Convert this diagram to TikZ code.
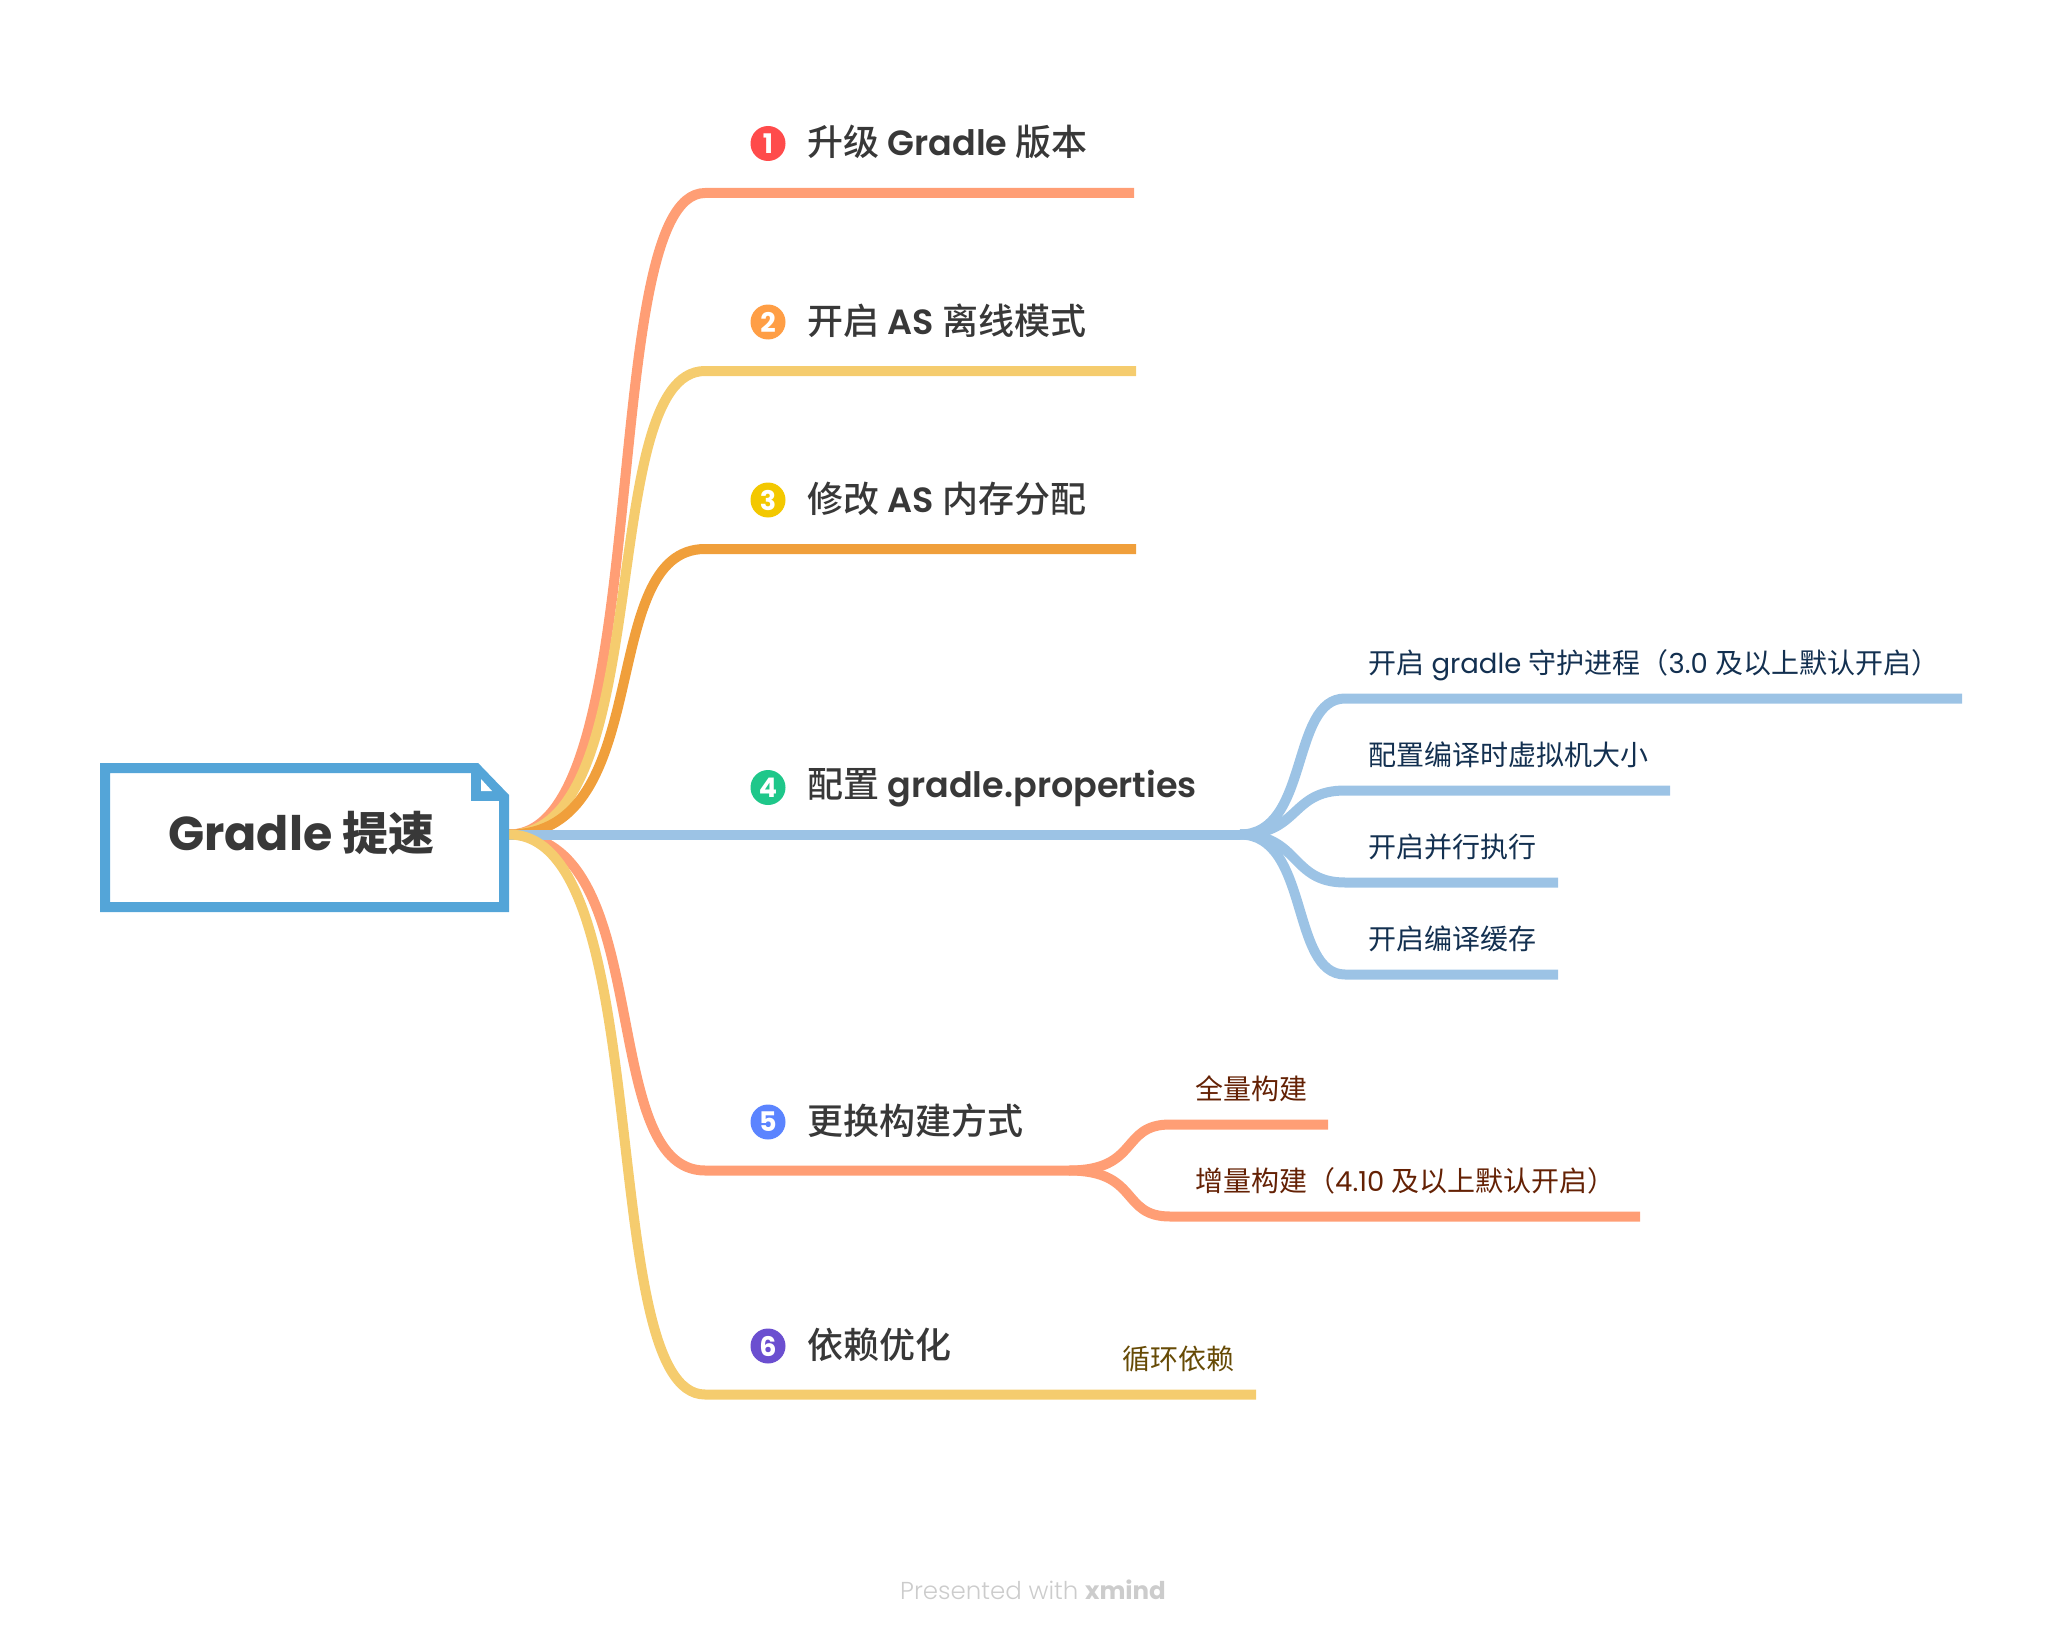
\documentclass[tikz,border=0pt]{standalone}
\usepackage{fontspec}
\setmainfont{Poppins}
\newfontfamily\cjk{Noto Sans CJK SC}
\newfontfamily\cjkm{Noto Sans CJK SC Medium}
\newfontfamily\pops{Poppins SemiBold}
\newfontfamily\popl{Poppins Light}
\definecolor{salmon}{HTML}{FF9E75}
\definecolor{sand}{HTML}{F5CC6E}
\definecolor{amber}{HTML}{F09F3B}
\definecolor{sky}{HTML}{9CC3E5}
\definecolor{rootblue}{HTML}{54A5D8}
\definecolor{ink}{HTML}{383838}
\definecolor{navy}{HTML}{133050}
\definecolor{rust}{HTML}{642104}
\definecolor{olive}{HTML}{664A05}
\definecolor{m1c}{HTML}{FF4B4B}
\definecolor{m2c}{HTML}{FF9E45}
\definecolor{m3c}{HTML}{F3C800}
\definecolor{m4c}{HTML}{1FC78A}
\definecolor{m5c}{HTML}{5B84FF}
\definecolor{m6c}{HTML}{6B4FD0}
\newcommand{\Z}[1]{{\cjk\fontsize{28}{30}\selectfont #1}}
\newcommand{\ZT}[1]{{\cjkm\fontsize{36}{38}\selectfont #1}}
\tikzset{
  x=1pt,y=-1pt,
  branch/.style={line width=10pt,line cap=butt,line join=round},
  tt/.style={anchor=base west,inner sep=0pt,text=ink,font=\pops\fontsize{35}{36}\selectfont},
  st/.style={anchor=base west,inner sep=0pt,font=\fontsize{27.5}{30}\selectfont},
  mark disc/.style={circle,inner sep=0pt,minimum size=35pt,text=white,font=\fontsize{27}{27}\selectfont\bfseries},
}
\begin{document}
\begin{tikzpicture}
\useasboundingbox (0,0) rectangle (2062,1640);
\coordinate (o) at (509,834.5);
\coordinate (e1) at (1134,193);
\coordinate (e2) at (1136,371);
\coordinate (e3) at (1136,549);
\coordinate (e4) at (1240,834.5);
\coordinate (e5) at (1069,1170.5);
\coordinate (e6) at (1256,1394.5);
% main branches
\draw[branch,salmon] (o) .. controls (658,834.5) and (595,193) .. (705,193) -- (e1);
\draw[branch,sand] (o) .. controls (658,834.5) and (595,371) .. (705,371) -- (e2);
\draw[branch,amber] (o) .. controls (658,834.5) and (595,549) .. (705,549) -- (e3);
\draw[branch,salmon] (o) .. controls (658,834.5) and (595,1170.5) .. (705,1170.5) -- (e5);
\draw[branch,sky] (o) -- (e4);
\draw[branch,sand] (o) .. controls (658,834.5) and (595,1394.5) .. (705,1394.5) -- (e6);
% sub branches 4
\coordinate (s41) at (1962,698.5);
\coordinate (s42) at (1670,790.5);
\coordinate (s43) at (1558,882.5);
\coordinate (s44) at (1558,974.5);
\draw[branch,sky] (e4) .. controls (1310,834.5) and (1290,698.5) .. (1345,698.5) -- (s41);
\draw[branch,sky] (e4) .. controls (1300,834.5) and (1290,790.5) .. (1345,790.5) -- (s42);
\draw[branch,sky] (e4) .. controls (1300,834.5) and (1290,882.5) .. (1345,882.5) -- (s43);
\draw[branch,sky] (e4) .. controls (1310,834.5) and (1290,974.5) .. (1345,974.5) -- (s44);
% sub branches 5
\coordinate (s51) at (1328,1124.5);
\coordinate (s52) at (1640,1216.5);
\draw[branch,salmon] (e5) .. controls (1140,1170.5) and (1120,1124.5) .. (1170,1124.5) -- (s51);
\draw[branch,salmon] (e5) .. controls (1140,1170.5) and (1120,1216.5) .. (1170,1216.5) -- (s52);
% root
\draw[line width=10pt,rootblue,fill=white,miter limit=10] (105,768) -- (476,768) -- (504,797) -- (504,907) -- (105,907) -- cycle;
\draw[line width=10pt,rootblue,miter limit=10] (476,768) -- (476,796) -- (504,796);
\fill[rootblue] (476,768) -- (504,797) -- (476,797) -- cycle;
\fill[white] (481,779) -- (481,791) -- (492,791) -- cycle;
\node[anchor=base west,inner sep=0pt,text=ink] (root) at (168,850) {\fontsize{47.5}{48}\selectfont\bfseries Gradle {\cjk\fontsize{46}{48}\selectfont 提速}};
% markers
\node[mark disc,fill=m1c] (m1) at (768,143.5) {1};
\node[mark disc,fill=m2c] (m2) at (768,322) {2};
\node[mark disc,fill=m3c] (m3) at (768,500) {3};
\node[mark disc,fill=m4c] (m4) at (768,787.5) {4};
\node[mark disc,fill=m5c] (m5) at (768,1122) {5};
\node[mark disc,fill=m6c] (m6) at (768,1346) {6};
% titles
\node[tt] (t1) at (807,156) {\ZT{升级} Gradle \ZT{版本}};
\node[tt] (t2) at (807,334) {\ZT{开启} AS \ZT{离线模式}};
\node[tt] (t3) at (807,512) {\ZT{修改} AS \ZT{内存分配}};
\node[tt] (t4) at (807,797) {\ZT{配置} gradle.properties};
\node[tt] (t5) at (807,1134) {\ZT{更换构建方式}};
\node[tt] (t6) at (807,1358) {\ZT{依赖优化}};
% subtitles
\node[st,text=navy] (a1) at (1368,673) {\Z{开启} gradle \Z{守护进程（}3.0 \Z{及以上默认开启）}};
\node[st,text=navy] (a2) at (1368,765.5) {\Z{配置编译时虚拟机大小}};
\node[st,text=navy] (a3) at (1368,857.5) {\Z{开启并行执行}};
\node[st,text=navy] (a4) at (1368,949.5) {\Z{开启编译缓存}};
\node[st,text=rust] (b1) at (1195,1099.5) {\Z{全量构建}};
\node[st,text=rust] (b2) at (1195,1191.5) {\Z{增量构建（}4.10 \Z{及以上默认开启）}};
\node[st,text=olive] (c1) at (1122,1369.5) {\Z{循环依赖}};
\node[anchor=base west,inner sep=0pt,text=black!20,font=\popl\fontsize{24.5}{30}\selectfont] (fo) at (900,1599) {Presented with {\fontspec{Poppins}\bfseries xmind}};
\end{tikzpicture}
\end{document}
